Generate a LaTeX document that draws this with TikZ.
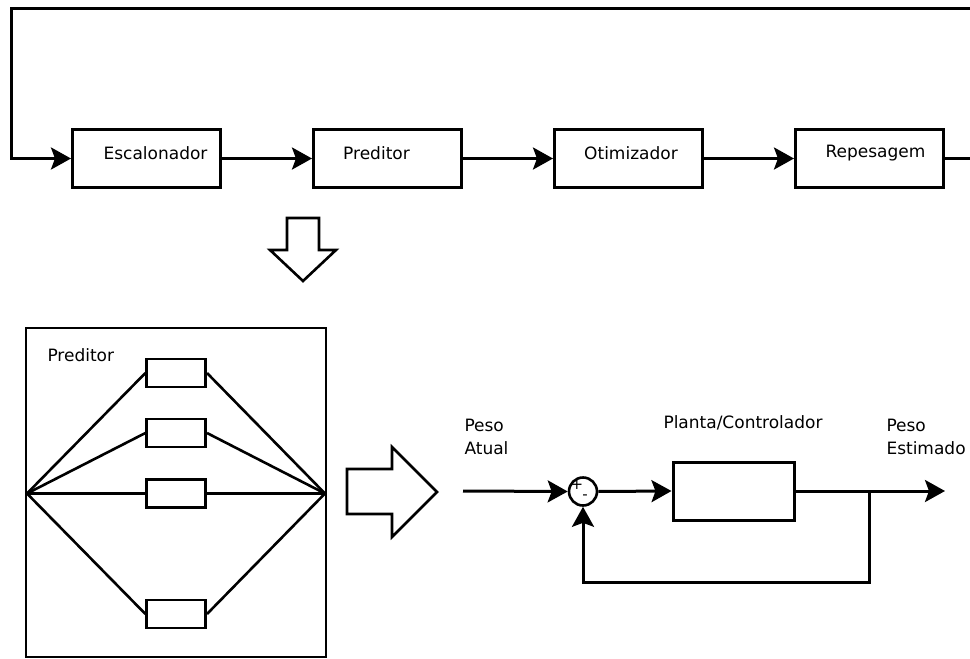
\documentclass[tikz,border=0pt]{standalone}
\usepackage{fontspec}
\setmainfont{DejaVu Sans}
\usetikzlibrary{arrows.meta}

\begin{document}
\begin{tikzpicture}[x=1pt, y=-1pt, line width=3pt, font=\fontsize{17}{23}\selectfont,
    >={Stealth[length=20pt, width=22pt, inset=4pt]},
    block/.style={draw, minimum width=148pt, minimum height=58pt},
    subblock/.style={draw, line width=2.6pt, minimum width=59pt, minimum height=28pt},
    sumpoint/.style={draw, circle, line width=2.6pt, minimum size=28pt, inner sep=0pt},
    txt/.style={anchor=north west, inner sep=0pt, align=left}]
    \useasboundingbox (0,0) rectangle (970,659);

    % upper chain
    \node[block, label={[xshift=9pt, yshift=5pt]center:Escalonador}] at (146.5,158.5) (esc) {};
    \node[block, label={[xshift=-11pt, yshift=5pt]center:Preditor}] at (387.5,158.5) (pred) {};
    \node[block, label={[xshift=2.5pt, yshift=5pt]center:Otimizador}] at (628.5,158.5) (otim) {};
    \node[block, label={[xshift=6pt, yshift=5pt]center:Repesagem}] at (869.5,158.5) (rep) {};
    \coordinate (loopR) at (978,8);
    \coordinate (loopL) at (11,8);

    \draw[->] (esc) -- (pred);
    \draw[->] (pred) -- (otim);
    \draw[->] (otim) -- (rep);
    \draw[->] (rep.east) -| (loopR) -- (loopL) |- (esc.west);

    % hollow arrows
    \draw[line width=2.6pt] (287,218) -- (319,218) -- (319,250) -- (336,250) -- (303,281) -- (270,250) -- (287,250) -- cycle;
    \draw[line width=2.6pt] (347,469) -- (392,469) -- (392,447) -- (437,492) -- (392,537) -- (392,514) -- (347,514) -- cycle;

    % predictor detail
    \node[draw, line width=2.6pt, minimum width=300pt, minimum height=329pt] at (175.8,492.3) (pbox) {};
    \node[txt] at (46,347) (plabel) {Preditor};
    \node[subblock] at (176.2,373) (m1) {};
    \node[subblock] at (176.2,433) (m2) {};
    \node[subblock] at (176.2,493.5) (m3) {};
    \node[subblock] at (176.2,614) (m4) {};
    \coordinate (hubL) at (27,493.5);
    \coordinate (hubR) at (325,493.5);

    \draw[line width=2.6pt] (hubL) -- (m1.west) (m1.east) -- (hubR);
    \draw[line width=2.6pt] (hubL) -- (m2.west) (m2.east) -- (hubR);
    \draw[line width=2.6pt] (hubL) -- (m3.west) (m3.east) -- (hubR);
    \draw[line width=2.6pt] (hubL) -- (m4.west) (m4.east) -- (hubR);

    % control loop
    \node[txt] at (463,418) (pin) {Peso\\Atual};
    \node[txt] at (885,418) (pout) {Peso\\Estimado};
    \node[anchor=base west, inner sep=0pt] at (662,428) (plabel2) {Planta/Controlador};
    \node[sumpoint] at (583,491.5) (sum) {};
    \node[font=\fontsize{15}{15}\selectfont, inner sep=0pt] at (577,485) (plus) {+};
    \node[font=\fontsize{15}{15}\selectfont, inner sep=0pt] at (585,497) (minus) {-};
    \node[block, minimum width=121pt] at (733.5,491) (plant) {};
    \coordinate (in) at (463,491);
    \coordinate (out) at (945,491);
    \coordinate (branch) at (869,491);

    \draw[->] (in) -- (sum.west);
    \draw[->] (sum.east) -- (plant.west);
    \draw[->] (plant.east) -- (out);
    \draw[->] (branch) -- ++(0,91) -| (sum.south);

\end{tikzpicture}
\end{document}
